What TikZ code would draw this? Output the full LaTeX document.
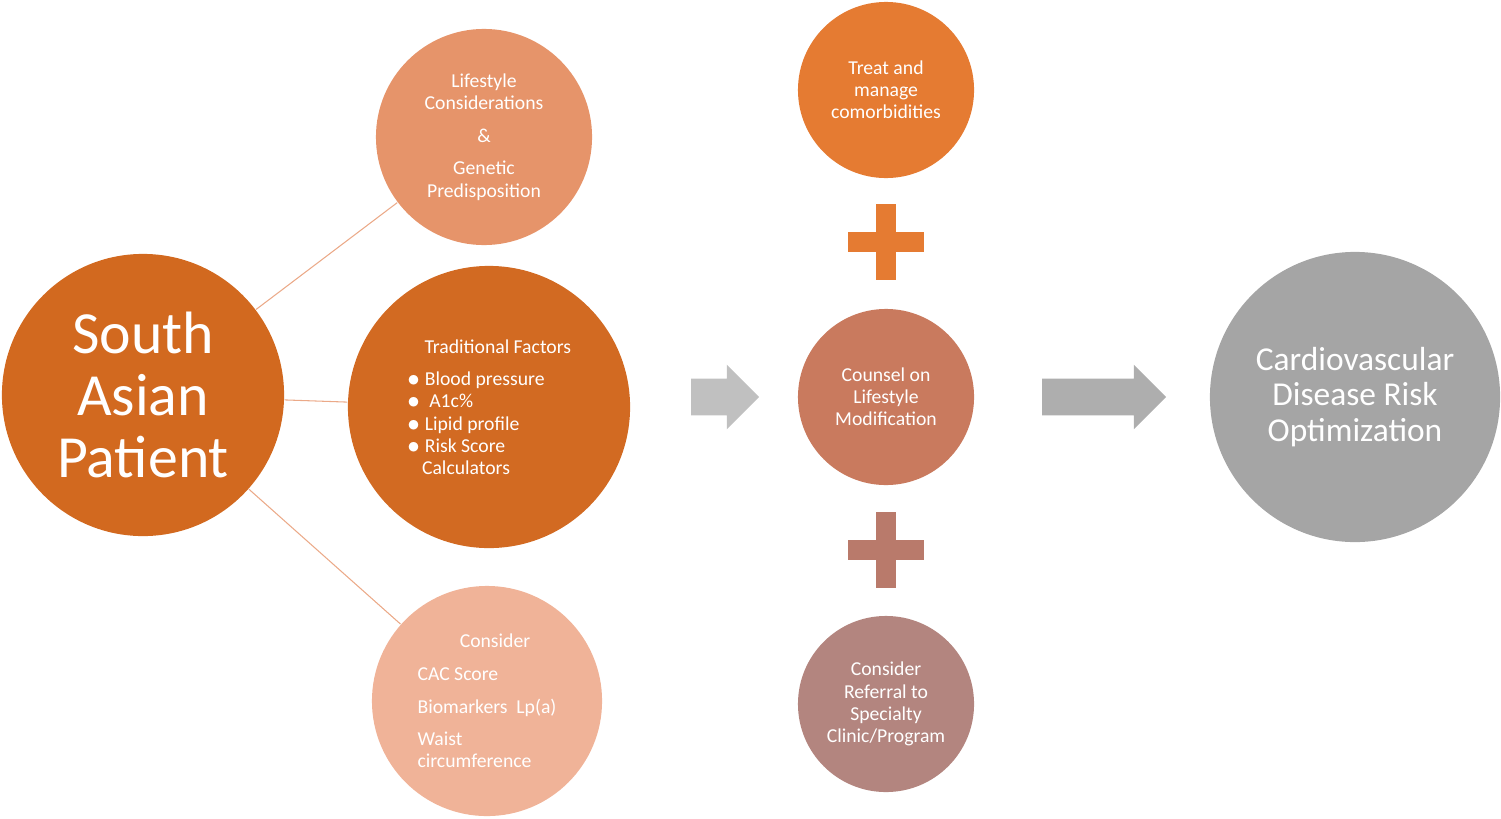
\documentclass[tikz,border=0pt]{standalone}
\usepackage{fontspec}
\setmainfont{Carlito}
\usetikzlibrary{shapes,arrows.meta,calc,positioning}
\definecolor{sapat}{HTML}{D2691F}
\definecolor{lifes}{HTML}{E6946A}
\definecolor{tradf}{HTML}{D26A22}
\definecolor{consd}{HTML}{F0B398}
\definecolor{treat}{HTML}{E57B32}
\definecolor{couns}{HTML}{C97A5E}
\definecolor{refer}{HTML}{B3857F}
\definecolor{cvdrk}{HTML}{A5A5A5}
\definecolor{plusb}{HTML}{B97A6B}
\tikzset{
    x=0.01cm,y=-0.01cm,
    bubble/.style={circle, inner sep=0pt, text=white, align=center, font=\fontsize{5.6}{6.3}\selectfont},
    link/.style={draw=lifes!80, line width=0.3pt},
    blockarrow/.style={single arrow, fill=cvdrk!85, draw=none, minimum height=#1, single arrow head extend=4pt, inner sep=5pt}
}
\begin{document}
\begin{tikzpicture}
    \useasboundingbox (0,0) rectangle (1501,818);
    % left group
    \node[bubble, fill=sapat, minimum size=282\pgflinewidth*0+2.82cm, font=\fontsize{17}{17.6}\selectfont] (sap) at (143,395) {South\\Asian\\Patient};
    \node[bubble, fill=lifes, minimum size=2.16cm] (lif) at (484,137) {Lifestyle\\Considerations\\[3pt]\&\\[3pt]Genetic\\Predisposition};
    \node[bubble, fill=tradf, minimum size=2.82cm, align=left] (tra) at (489,407) {\hspace*{5pt}Traditional Factors\\[3pt]
        $\bullet$ Blood pressure\\ $\bullet$ \ A1c\%\\ $\bullet$ Lipid profile\\ $\bullet$ Risk Score\\ \hspace*{4.3pt}Calculators};
    \node[bubble, fill=consd, minimum size=2.30cm, align=left] (con) at (487,701) {\hspace*{12pt}Consider\\[3pt]CAC Score\\[3pt]Biomarkers\ \ Lp(a)\\[3pt]Waist\\circumference};
    % links
    \path[link] (sap) -- (lif);
    \path[link] (sap) -- (tra);
    \path[link] (sap) -- (con);
    % middle group
    \node[bubble, fill=treat, minimum size=1.76cm] (tre) at (886,90) {Treat and\\manage\\comorbidities};
    \node[bubble, fill=couns, minimum size=1.76cm] (cou) at (886,397) {Counsel on\\Lifestyle\\Modification};
    \node[bubble, fill=refer, minimum size=1.76cm] (ref) at (886,704) {Consider\\Referral to\\Specialty\\Clinic/Program};
    \foreach \py/\pc in {242/treat,550/plusb}{
        \fill[\pc] (848,{\py-10}) rectangle (924,{\py+10});
        \fill[\pc] (876,{\py-38}) rectangle (896,{\py+38});
    }
    % result
    \node[bubble, fill=cvdrk, minimum size=2.90cm, font=\fontsize{9.5}{10.2}\selectfont] (cvd) at (1355,397) {Cardiovascular\\Disease Risk\\Optimization};
    \node[blockarrow=0.68cm, fill=cvdrk!70] (ar1) at (716,397) {};
    \node[blockarrow=1.24cm, fill=cvdrk!90, minimum width=0.64cm] (ar2) at (1095,397) {};
\end{tikzpicture}
\end{document}
